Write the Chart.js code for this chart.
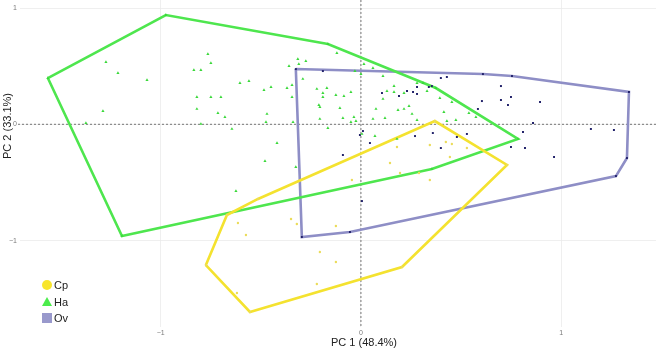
<!DOCTYPE html>
<html>
<head>
<meta charset="utf-8">
<script src="https://cdn.jsdelivr.net/npm/chart.js@4.4.1/dist/chart.umd.min.js"></script>
<style>
  html, body { margin: 0; padding: 0; background: #fff; }
</style>
</head>
<body>
<canvas id="pca" width="660" height="350"></canvas>
<script>
const groups = ['Cp', 'Ha', 'Ov'];
const xTicks = [-1, 0, 1];
const yTicks = [-1, 0, 1];

// PC scores
const cpX = [0.369, 0.729, 0.205, -0.554, -0.774, -0.669, -0.514, 0.424, 0.454, 0.529, 0.444, 0.180, 0.344, 0.145,
  0.195, -0.045, 0.344, 0.290, -0.614, -0.349, -0.320, -0.125, -0.574, -0.205, -0.125, -0.220, -0.619];
const cpY = [0.028, -0.350, -1.227, -1.614, -1.210, -0.780, -0.642, -0.152, -0.169, -0.204, -0.281, -0.195, -0.178, -0.333,
  -0.419, -0.479, -0.479, -0.419, -0.849, -0.814, -0.857, -0.874, -0.952, -1.098, -1.184, -1.373, -1.451];

const haX = [-1.563, -0.974, -0.165, 0.374, 0.784, 0.354, -1.193, -1.273, -1.213, -1.068, -1.288, -1.373, -0.764, -0.749,
  -0.834, -0.799, -0.604, -0.559, -0.819, -0.749, -0.699, -0.819, -0.714, -0.679, -0.799, -0.644, -0.120, -0.315,
  -0.275, -0.310, -0.359, -0.030, 0.000, 0.015, 0.060, -0.290, 0.110, -0.344, -0.369, -0.449, -0.484, -0.170,
  -0.190, -0.190, -0.125, -0.085, -0.050, -0.220, -0.344, -0.210, -0.205, -0.105, -0.469, -0.474, -0.205, -0.090,
  -0.035, -0.025, -0.050, -0.339, -0.165, 0.165, 0.130, 0.165, 0.215, 0.110, 0.075, 0.185, 0.215, 0.240, 0.255,
  0.120, 0.060, 0.280, 0.280, 0.310, 0.330, -0.419, 0.070, 0.180, -0.479, -0.325, -0.624, 0.005, 0.394, 0.454,
  0.414, 0.429, 0.474, 0.539, 0.574];
const haY = [0.398, 0.940, 0.690, 0.312, -0.126, -0.384, -0.960, 0.536, 0.441, 0.381, 0.114, 0.011, 0.604, 0.527,
  0.467, 0.467, 0.355, 0.372, 0.235, 0.235, 0.235, 0.132, 0.097, 0.063, 0.003, -0.040, 0.613, 0.561,
  0.544, 0.518, 0.501, 0.458, 0.432, 0.518, 0.484, 0.390, 0.415, 0.338, 0.312, 0.321, 0.295, 0.312,
  0.269, 0.235, 0.252, 0.243, 0.278, 0.304, 0.235, 0.166, 0.149, 0.140, 0.089, 0.020, 0.046, 0.054,
  0.063, 0.028, 0.020, 0.020, -0.032, 0.329, 0.286, 0.278, 0.269, 0.218, 0.132, 0.123, 0.132, 0.157, 0.089,
  0.054, 0.046, 0.037, 0.355, 0.355, 0.286, -0.161, -0.101, -0.126, -0.316, -0.367, -0.574, -0.083, 0.226, 0.192,
  0.106, 0.028, 0.037, 0.097, 0.063];

const ovX = [-0.325, 0.609, 0.754, 1.338, 1.328, 1.273, -0.055, -0.295, -0.190, 0.105, 0.190, 0.230, 0.260, 0.280,
  0.280, 0.339, 0.354, -0.005, 0.010, 0.045, -0.090, 0.270, 0.359, 0.399, 0.429, 0.699, 0.749, 0.699, 0.604,
  0.734, 0.584, 0.894, 0.859, 0.809, 0.529, 0.479, 0.399, 0.749, 0.819, 0.964, 1.148, 1.263, 0.005];
const ovY = [0.475, 0.432, 0.415, 0.278, -0.290, -0.445, -0.926, -0.969, 0.458, 0.269, 0.243, 0.286, 0.278, 0.261,
  0.321, 0.321, 0.329, -0.092, -0.058, -0.161, -0.264, -0.101, -0.075, 0.398, 0.407, 0.329, 0.235, 0.209, 0.200,
  0.166, 0.132, 0.192, 0.011, -0.066, -0.083, -0.109, -0.204, -0.195, -0.204, -0.281, -0.040, -0.049, -0.660];

const hullColors = ['#f4e22f', '#4ee64e', '#8e8ec6'];
const pointColors = ['#ebdc5a', '#3ad83a', '#22226a'];
const legendColors = ['#f8e52c', '#4cec4c', '#9999cc'];
const pointStyles = ['circle', 'triangle', 'rect'];
const pointSizes = [1.2, 1.8, 1.4];
const FONT = "'Liberation Sans', Arial, sans-serif";

function toPoints(xs, ys) {
  return xs.map((x, i) => ({ x: x, y: ys[i] }));
}

// convex hull (monotone chain), closed
function hull(pts) {
  const p = pts.slice().sort((a, b) => a.x - b.x || a.y - b.y);
  const cross = (o, a, b) => (a.x - o.x) * (b.y - o.y) - (a.y - o.y) * (b.x - o.x);
  const lower = [], upper = [];
  for (const q of p) {
    while (lower.length >= 2 && cross(lower[lower.length - 2], lower[lower.length - 1], q) <= 0) lower.pop();
    lower.push(q);
  }
  for (let i = p.length - 1; i >= 0; i--) {
    const q = p[i];
    while (upper.length >= 2 && cross(upper[upper.length - 2], upper[upper.length - 1], q) <= 0) upper.pop();
    upper.push(q);
  }
  const h = lower.slice(0, -1).concat(upper.slice(0, -1));
  h.push(h[0]);
  return h;
}

const series = [toPoints(cpX, cpY), toPoints(haX, haY), toPoints(ovX, ovY)];

const datasets = [];
groups.forEach((g, i) => {
  datasets.push({
    label: g + ' hull',
    data: hull(series[i]),
    showLine: true,
    borderColor: hullColors[i],
    borderWidth: 2.6,
    pointRadius: 0,
    fill: false,
    tension: 0,
    order: 2
  });
  datasets.push({
    label: g,
    data: series[i],
    pointStyle: pointStyles[i],
    pointRadius: pointSizes[i],
    backgroundColor: pointColors[i],
    borderWidth: 0,
    order: 1
  });
});

const extras = {
  id: 'extras',
  beforeDatasetsDraw(chart) {
    const { ctx, chartArea: a, scales: { x, y } } = chart;
    const x0 = x.getPixelForValue(0), y0 = y.getPixelForValue(0);
    ctx.save();
    ctx.strokeStyle = '#555';
    ctx.lineWidth = 0.8;
    ctx.setLineDash([2, 2]);
    ctx.beginPath();
    ctx.moveTo(a.left - 2, y0); ctx.lineTo(a.right, y0);
    ctx.moveTo(x0, a.top); ctx.lineTo(x0, a.bottom);
    ctx.stroke();
    ctx.restore();
  },
  afterDraw(chart) {
    const ctx = chart.ctx;
    ctx.save();
    ctx.fillStyle = '#222';
    ctx.font = '11px ' + FONT;
    ctx.textAlign = 'center';
    ctx.textBaseline = 'middle';
    ctx.fillText('PC 1 (48.4%)', 364, 343);
    ctx.translate(8, 126);
    ctx.rotate(-Math.PI / 2);
    ctx.fillText('PC 2 (33.1%)', 0, 0);
    ctx.restore();

    // legend
    ctx.save();
    const lx = 47, ly = [285, 302, 318];
    ctx.fillStyle = legendColors[0];
    ctx.beginPath(); ctx.arc(lx, ly[0], 5, 0, Math.PI * 2); ctx.fill();
    ctx.fillStyle = legendColors[1];
    ctx.beginPath();
    ctx.moveTo(lx, ly[1] - 5); ctx.lineTo(lx + 5, ly[1] + 4); ctx.lineTo(lx - 5, ly[1] + 4);
    ctx.closePath(); ctx.fill();
    ctx.fillStyle = legendColors[2];
    ctx.fillRect(lx - 5, ly[2] - 5, 10, 10);
    ctx.fillStyle = '#222';
    ctx.font = '11px ' + FONT;
    ctx.textAlign = 'left';
    ctx.textBaseline = 'middle';
    groups.forEach((g, i) => ctx.fillText(g, 54, ly[i] + 0.5));
    ctx.restore();
  }
};

const tickFmt = v => String(v).replace('-', '\u2212');

new Chart(document.getElementById('pca'), {
  type: 'scatter',
  data: { datasets: datasets },
  options: {
    responsive: false,
    animation: false,
    layout: { autoPadding: false, padding: { left: 0, right: 4, top: 0, bottom: 0 } },
    plugins: { legend: { display: false }, tooltip: { enabled: false } },
    scales: {
      x: {
        min: -1.702, max: 1.473,
        afterBuildTicks: s => { s.ticks = xTicks.map(v => ({ value: v })); },
        afterFit: s => { s.height = 23; s.paddingLeft = 0; s.paddingRight = 0; },
        grid: { color: '#ebebeb', lineWidth: 0.8, drawTicks: false },
        border: { display: false },
        ticks: { callback: tickFmt, color: '#7a7a7a', font: { size: 7, family: FONT }, padding: 2, maxRotation: 0 }
      },
      y: {
        min: -1.743, max: 1.069,
        afterBuildTicks: s => { s.ticks = yTicks.map(v => ({ value: v })); },
        afterFit: s => { s.width = 20; s.paddingTop = 0; s.paddingBottom = 0; },
        grid: { color: '#ebebeb', lineWidth: 0.8, drawTicks: false },
        border: { display: false },
        ticks: { callback: tickFmt, color: '#7a7a7a', font: { size: 7, family: FONT }, padding: 3 }
      }
    }
  },
  plugins: [extras]
});
</script>
</body>
</html>
